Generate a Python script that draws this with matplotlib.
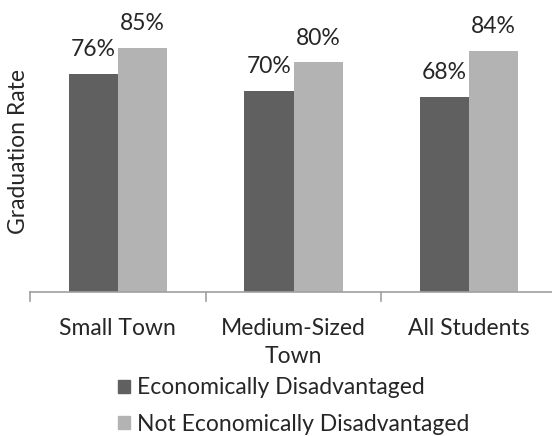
import matplotlib.pyplot as plt
import numpy as np
from matplotlib.patches import Patch

plt.rcParams['font.family'] = ['Lato', 'DejaVu Sans']

categories = ['Small Town', 'Medium-Sized\nTown', 'All Students']
econ_dis = [76, 70, 68]
not_econ_dis = [85, 80, 84]
series_names = ['Economically Disadvantaged', 'Not Economically Disadvantaged']
dark = '#606060'
light = '#b3b3b3'
fs = 16.5

fig = plt.figure(figsize=(5.52, 4.36), dpi=100)
ax = fig.add_axes([30 / 552, 144 / 436, 527 / 552, 287 / 436])

x = np.arange(len(categories))
w = 0.28
b1 = ax.bar(x - w / 2, econ_dis, w, color=dark)
b2 = ax.bar(x + w / 2, not_econ_dis, w, color=light)

for bars, vals in [(b1, econ_dis), (b2, not_econ_dis)]:
    for rect, v in zip(bars, vals):
        ax.annotate(f'{v}%', (rect.get_x() + rect.get_width() / 2, rect.get_height()),
                    xytext=(0, 10), textcoords='offset points',
                    ha='center', va='bottom', fontsize=fs, color='#262626')

ax.set_xlim(-0.5, 2.5)
ax.set_ylim(0, 100)
ax.set_yticks([])
for s in ['top', 'right', 'left']:
    ax.spines[s].set_visible(False)
ax.spines['bottom'].set_color('#a0a0a0')
ax.spines['bottom'].set_linewidth(1.2)

ax.set_xticks([])
for i, c in enumerate(categories):
    ax.text(i, -9, c, ha='center', va='top', fontsize=fs, color='#262626',
            linespacing=1.45)
# tick marks between categories
for t in [-0.5, 0.5, 1.5]:
    ax.plot([t, t], [0, -3], color='#a0a0a0', lw=1.2, clip_on=False)

fig.text(19 / 552, 1 - 152 / 436, 'Graduation Rate', rotation=90, ha='center', va='center',
         fontsize=fs, color='#262626')

handles = [Patch(color=dark), Patch(color=light)]
fig.legend(handles, series_names, loc='upper left', bbox_to_anchor=(107 / 552, 1 - 366 / 436),
           frameon=False, fontsize=fs, handlelength=0.52, handleheight=0.52, handletextpad=0.3,
           labelspacing=0.66, borderpad=0, labelcolor='#262626')

fig.savefig('out.png', dpi=100)
